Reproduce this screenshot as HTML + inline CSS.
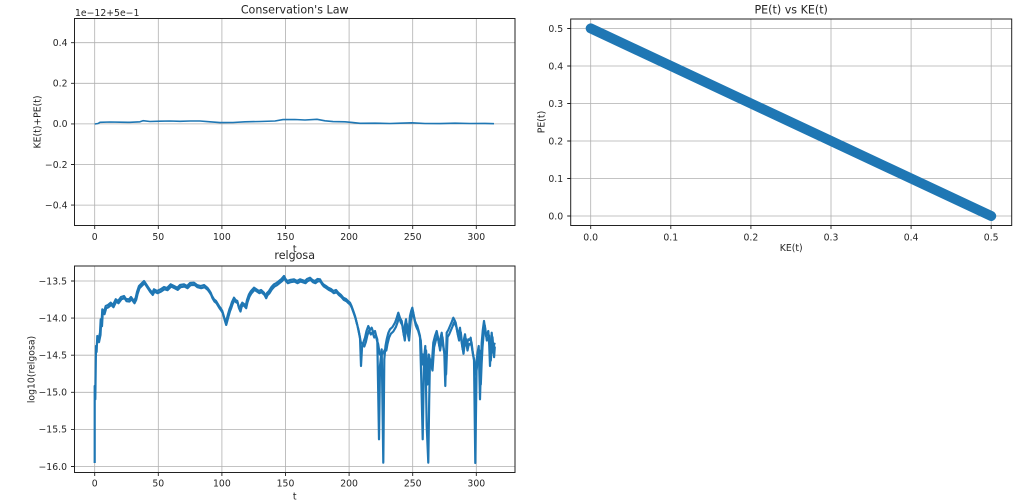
<!DOCTYPE html>
<html><head><meta charset="utf-8"><style>
html,body{margin:0;padding:0;background:#fff;}
svg{display:block;}
text{font-family:"DejaVu Sans","Liberation Sans",sans-serif;fill:#262626;}
.tk{font-size:9.3px;}
.ti{font-size:11.1px;}
.lb{font-size:9.3px;}
.g{stroke:#b0b0b0;stroke-width:0.8;fill:none;}
.sp{stroke:#222;stroke-width:1;fill:none;}
.tm{stroke:#222;stroke-width:0.9;}
.rl{fill:none;stroke:#1f77b4;stroke-width:2.2;stroke-linejoin:round;}
</style></head><body>
<svg width="1024" height="502" viewBox="0 0 1024 502" xmlns="http://www.w3.org/2000/svg">
<rect width="1024" height="502" fill="#fff"/>

<!-- ============ TOP LEFT ============ -->
<g>
<path class="g" d="M94.7 18.5V225.5M158.3 18.5V225.5M221.9 18.5V225.5M285.5 18.5V225.5M349.1 18.5V225.5M412.7 18.5V225.5M476.3 18.5V225.5
M74.5 42.7H515M74.5 83.3H515M74.5 123.9H515M74.5 164.5H515M74.5 205.1H515"/>
<polyline fill="none" stroke="#1f77b4" stroke-width="1.6" stroke-linejoin="round" points="94.7,124 98,123.5 100,122.3 110,122 120,122.2 130,122.3 140,121.8 143,120.7 150,121.5 160,121.2 170,121 180,121.3 190,121 200,121 210,121.8 220,122.6 233,122.5 245,121.8 260,121.5 275,121 283,119.6 295,119.5 305,120 317,119.3 325,120.8 333,121.6 345,121.8 352,122.4 360,123.3 375,123.2 390,123.5 400,123.2 412,122.8 425,123.5 440,123.6 455,123.2 470,123.5 485,123.4 494,123.7"/>
<rect class="sp" x="74.5" y="18.5" width="440.5" height="207"/>
<path class="tm" d="M94.7 225.5v3.5M158.3 225.5v3.5M221.9 225.5v3.5M285.5 225.5v3.5M349.1 225.5v3.5M412.7 225.5v3.5M476.3 225.5v3.5
M74.5 42.7h-3.5M74.5 83.3h-3.5M74.5 123.9h-3.5M74.5 164.5h-3.5M74.5 205.1h-3.5"/>
<g class="tk" text-anchor="middle">
<text x="94.7" y="240">0</text><text x="158.3" y="240">50</text><text x="221.9" y="240">100</text><text x="285.5" y="240">150</text><text x="349.1" y="240">200</text><text x="412.7" y="240">250</text><text x="476.3" y="240">300</text>
</g>
<g class="tk" text-anchor="end">
<text x="67.5" y="46">0.4</text><text x="67.5" y="86.6">0.2</text><text x="67.5" y="127.2">0.0</text><text x="67.5" y="167.8">−0.2</text><text x="67.5" y="208.4">−0.4</text>
</g>
<text class="tk" x="75" y="16">1e−12+5e−1</text>
<text class="ti" x="294.7" y="13.3" text-anchor="middle">Conservation's Law</text>
<text class="lb" x="294.7" y="252" text-anchor="middle">t</text>
<text class="lb" transform="translate(40.5,122) rotate(-90)" text-anchor="middle">KE(t)+PE(t)</text>
</g>

<!-- ============ TOP RIGHT ============ -->
<g>
<path class="g" d="M590.7 19V225.5M670.8 19V225.5M750.9 19V225.5M831 19V225.5M911.1 19V225.5M991.2 19V225.5
M570.7 216H1011.7M570.7 178.5H1011.7M570.7 141H1011.7M570.7 103.5H1011.7M570.7 66H1011.7M570.7 28.5H1011.7"/>
<line x1="590.7" y1="28.4" x2="991.2" y2="216" stroke="#1f77b4" stroke-width="10" stroke-linecap="round"/>
<rect class="sp" x="570.7" y="19" width="441" height="206.5"/>
<path class="tm" d="M590.7 225.5v3.5M670.8 225.5v3.5M750.9 225.5v3.5M831 225.5v3.5M911.1 225.5v3.5M991.2 225.5v3.5
M570.7 216h-3.5M570.7 178.5h-3.5M570.7 141h-3.5M570.7 103.5h-3.5M570.7 66h-3.5M570.7 28.5h-3.5"/>
<g class="tk" text-anchor="middle">
<text x="590.7" y="240.3">0.0</text><text x="670.8" y="240.3">0.1</text><text x="750.9" y="240.3">0.2</text><text x="831" y="240.3">0.3</text><text x="911.1" y="240.3">0.4</text><text x="991.2" y="240.3">0.5</text>
</g>
<g class="tk" text-anchor="end">
<text x="563.2" y="219.3">0.0</text><text x="563.2" y="181.8">0.1</text><text x="563.2" y="144.3">0.2</text><text x="563.2" y="106.8">0.3</text><text x="563.2" y="69.3">0.4</text><text x="563.2" y="31.8">0.5</text>
</g>
<text class="ti" x="791.2" y="13.3" text-anchor="middle">PE(t) vs KE(t)</text>
<text class="lb" x="791.2" y="251" text-anchor="middle">KE(t)</text>
<text class="lb" transform="translate(544.5,122) rotate(-90)" text-anchor="middle">PE(t)</text>
</g>

<!-- ============ BOTTOM LEFT ============ -->
<g>
<path class="g" d="M94.7 266V472.5M158.3 266V472.5M221.9 266V472.5M285.5 266V472.5M349.1 266V472.5M412.7 266V472.5M476.3 266V472.5
M74.5 281H515M74.5 318.1H515M74.5 355.2H515M74.5 392.3H515M74.5 429.4H515M74.5 466.5H515"/>
<!-- head part (t < ~205) -->
<polyline id="hd" class="rl" points="
94.7,463 94.7,386 95.3,399.3 96,346 96.6,352 97.3,336 98.5,340 100,332.7 100.7,319.3 101.5,324 102.3,309.3 104,312 105.7,306 108,305 110.7,302.7 113,305 115.7,299.3 118,301 121,297 124,296 126,299 129,299.3 131,297 134,301 135.7,297.7 137,292 139,286 141,284 144,281 146,284 147.3,286 150,290 152.3,292.7 154,289.3 157,291 160.7,289.3 164,287 167,288 170.7,284.3 174,286 177.3,287.7 180,285 184,284.3 187,286 190,283 194,282.7 197,285 200.7,286 204,285 207.3,287.7 209,290 210.7,292.7 212,296 214,299.3 216,301 219,306 220.5,308 222.3,311 224,317 225.7,322.7 227,318 228,314.3 229.5,309 230.7,306 232,302 234,297.7 235.5,300 237.3,301 238.5,306 240,309.3 241,305 242.3,302.7 244,304 245.7,306 247,300 249,294.3 251,291 254,287.7 256,289 259,291 261,290 264,292.7 265.7,296 267,293 269,291 271.5,287 274,284.3 276.5,283 279,281 281.5,279 284,276 285.5,279 287.3,281 290,280 294,279.3 297,281 300,279.3
305,281 307,279 310,277.7 312.5,280 315,281 317.5,279 320,279.3 321.5,282 323.3,284.3 326,286 328.3,287.7 331,289 333.3,291 336,290 338.3,292.7 341,295 343.3,297.7 346,299 348,301 350,302.7 351.5,306 353.3,311 355,316 356.7,322.7"/>
<polyline class="rl" transform="translate(0.5,2.2)" points="
97.3,336 98.5,340 100,332.7 100.7,319.3 101.5,324 102.3,309.3 104,312 105.7,306 108,305 110.7,302.7 113,305 115.7,299.3 118,301 121,297 124,296 126,299 129,299.3 131,297 134,301 135.7,297.7 137,292 139,286 141,284 144,281 146,284 147.3,286 150,290 152.3,292.7 154,289.3 157,291 160.7,289.3 164,287 167,288 170.7,284.3 174,286 177.3,287.7 180,285 184,284.3 187,286 190,283 194,282.7 197,285 200.7,286 204,285 207.3,287.7 209,290 210.7,292.7 212,296 214,299.3 216,301 219,306 220.5,308 222.3,311 224,317 225.7,322.7 227,318 228,314.3 229.5,309 230.7,306 232,302 234,297.7 235.5,300 237.3,301 238.5,306 240,309.3 241,305 242.3,302.7 244,304 245.7,306 247,300 249,294.3 251,291 254,287.7 256,289 259,291 261,290 264,292.7 265.7,296 267,293 269,291 271.5,287 274,284.3 276.5,283 279,281 281.5,279 284,276 285.5,279 287.3,281 290,280 294,279.3 297,281 300,279.3
305,281 307,279 310,277.7 312.5,280 315,281 317.5,279 320,279.3 321.5,282 323.3,284.3 326,286 328.3,287.7 331,289 333.3,291 336,290 338.3,292.7 341,295 343.3,297.7 346,299 348,301 350,302.7 351.5,306 353.3,311 355,316 356.7,322.7"/>
<!-- tail part (noisy) -->
<polyline class="rl" points="
356.7,322.7 358.5,330 360,337.7 361,366 362,347.7 363.5,342 365,337.7 366.5,331 368.3,326 370,330 371.7,327.7 373.5,333 375,331 376.2,336 377.3,339.3 379,439.3 380,366 381.7,349.3 383.3,462.7 384.3,359.3 385.5,346 386.7,339.3 388.3,333 390,329.3 392.5,327 395,322.7 396.7,318 398.3,312.7 400,318 401.7,321 403,330 404,336 405,325 406,319.3 407.2,330 408.3,336 409.2,325 410,316 411.2,311 412.3,307.7 413.7,315 415,321 416.2,324 417.3,326 418.7,331 420,336 421.3,380 422.7,439.3 424,359.3 425.3,346 426.7,426 428.3,462.7 429.2,400 430,359.3 431.7,366 433.3,342.7 435,336 436.7,331 438,338 439.3,346 440.5,338 441.7,332.7 443,345 444.3,352.7 445.3,386 446.7,332.7 448.3,330 450,326 451.7,322 453.3,317.7 454.5,320 455.7,322.7 457,330 458.3,336 459.2,331 460,327.7 461.3,340 462.7,349.3 463.8,340 465,334.3 465.8,340 466.7,346 467.5,342 468.3,339.3 469.5,340 470.7,337.7 471.7,346 472.7,352.7 474,359.3 475.3,463 476.7,359.3 477.7,352 478.7,346 479.3,370 480,399.3 480.8,370 481.7,342.7 482.8,330 484,321 485,328 486,336 487.2,334 488.3,331 489.2,345 490,366 490.8,345 491.7,332.7 492.5,343 493.3,352.7 494.1,345 494.7,342.7"/>
<polyline class="rl" transform="translate(0.8,4.5)" points="
357,322.7 358.5,330 360,337.7 362,340 363.5,342 365,337.7 366.5,331 368.3,326 370,330 371.7,327.7 373.5,333 375,331 376.2,336 377.3,339.3 379,350 381.7,349.3 384.3,345 385.5,346 386.7,339.3 388.3,333 390,329.3 392.5,327 395,322.7 396.7,318 398.3,312.7 400,318 401.7,321 403,330 404,336 405,325 406,319.3 407.2,330 408.3,336 409.2,325 410,316 411.2,311 412.3,307.7 413.7,315 415,321 416.2,324 417.3,326 418.7,331 420,336 421.3,360 422,350 424,359.3 425.3,346 426.7,380 428,350 430,359.3 431.7,366 433.3,342.7 435,336 436.7,331 438,338 439.3,346 440.5,338 441.7,332.7 443,345 444.3,352.7 445.3,370 446.7,332.7 448.3,330 450,326 451.7,322 453.3,317.7 454.5,320 455.7,322.7 457,330 458.3,336 459.2,331 460,327.7 461.3,340 462.7,349.3 463.8,340 465,334.3 465.8,340 466.7,346 467.5,342 468.3,339.3 469.5,340 470.7,337.7 471.7,346 472.7,352.7 474,359.3 475,370 476.7,359.3 477.7,352 478.7,346 479.3,360 480,380 480.8,360 481.7,342.7 482.8,330 484,321 485,328 486,336 487.2,334 488.3,331 489.2,345 490,356 490.8,345 491.7,332.7 492.5,343 493.3,352.7 494,342"/>
<rect class="sp" x="74.5" y="266" width="440.5" height="206.5"/>
<path class="tm" d="M94.7 472.5v3.5M158.3 472.5v3.5M221.9 472.5v3.5M285.5 472.5v3.5M349.1 472.5v3.5M412.7 472.5v3.5M476.3 472.5v3.5
M74.5 281h-3.5M74.5 318.1h-3.5M74.5 355.2h-3.5M74.5 392.3h-3.5M74.5 429.4h-3.5M74.5 466.5h-3.5"/>
<g class="tk" text-anchor="middle">
<text x="94.7" y="486.5">0</text><text x="158.3" y="486.5">50</text><text x="221.9" y="486.5">100</text><text x="285.5" y="486.5">150</text><text x="349.1" y="486.5">200</text><text x="412.7" y="486.5">250</text><text x="476.3" y="486.5">300</text>
</g>
<g class="tk" text-anchor="end">
<text x="67" y="284.3">−13.5</text><text x="67" y="321.4">−14.0</text><text x="67" y="358.5">−14.5</text><text x="67" y="395.6">−15.0</text><text x="67" y="432.7">−15.5</text><text x="67" y="469.8">−16.0</text>
</g>
<text class="ti" x="294.7" y="259" text-anchor="middle">relgosa</text>
<text class="lb" x="294.7" y="499.5" text-anchor="middle">t</text>
<text class="lb" transform="translate(34.5,369.5) rotate(-90)" text-anchor="middle">log10(relgosa)</text>
</g>
</svg>
</body></html>
